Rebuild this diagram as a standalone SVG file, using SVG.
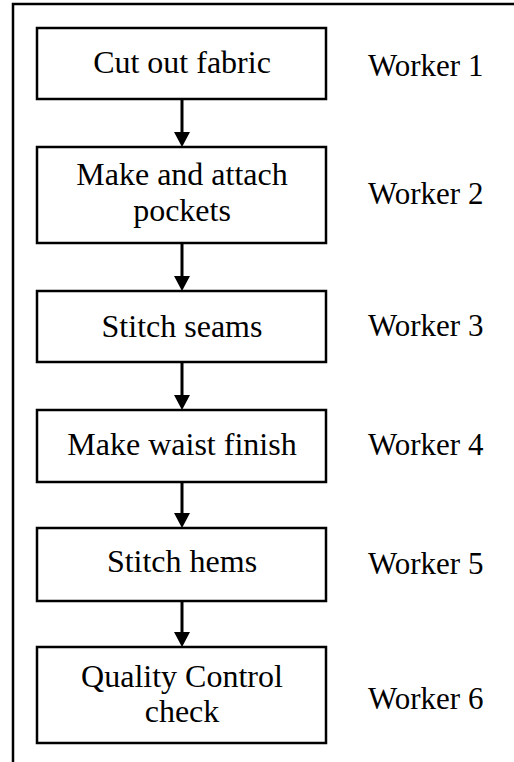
<svg xmlns="http://www.w3.org/2000/svg" width="514" height="762" viewBox="0 0 514 762">
  <defs>
    <style>
      .frame { fill: none; stroke: #000; stroke-width: 2.5; }
      .box { fill: #fff; stroke: #000; stroke-width: 2.5; }
      .lbl { font-family: "Liberation Serif", "Times New Roman", serif; font-size: 32px; fill: #000; text-anchor: middle; }
      .wrk { font-family: "Liberation Serif", "Times New Roman", serif; font-size: 31px; fill: #000; }
      .conn { stroke: #000; stroke-width: 3; fill: none; marker-end: url(#arrow); }
    </style>
    <marker id="arrow" viewBox="0 0 15 16" refX="7" refY="8" markerWidth="15" markerHeight="16" markerUnits="userSpaceOnUse" orient="auto">
      <path d="M0,0 L15,8 L0,16 z" fill="#000"/>
    </marker>
  </defs>
  <rect width="514" height="762" fill="#fff"/>
  <rect class="frame" x="13" y="4" width="520" height="780"/>

  <g id="connectors">
    <line class="conn" x1="182" y1="99" x2="182" y2="139"/>
    <line class="conn" x1="182" y1="243" x2="182" y2="283"/>
    <line class="conn" x1="182" y1="362" x2="182" y2="402"/>
    <line class="conn" x1="182" y1="482" x2="182" y2="520"/>
    <line class="conn" x1="182" y1="601" x2="182" y2="639"/>
  </g>

  <g id="node1">
    <rect class="box" x="37" y="28" width="289" height="71"/>
    <text class="lbl" x="182" y="73">Cut out fabric</text>
  </g>
  <g id="node2">
    <rect class="box" x="37" y="147" width="289" height="96"/>
    <text class="lbl" x="182" y="185">Make and attach</text>
    <text class="lbl" x="182" y="221">pockets</text>
  </g>
  <g id="node3">
    <rect class="box" x="37" y="291" width="289" height="71"/>
    <text class="lbl" x="182" y="337">Stitch seams</text>
  </g>
  <g id="node4">
    <rect class="box" x="37" y="410" width="289" height="72"/>
    <text class="lbl" x="182" y="455">Make waist finish</text>
  </g>
  <g id="node5">
    <rect class="box" x="37" y="528" width="289" height="73"/>
    <text class="lbl" x="182" y="572">Stitch hems</text>
  </g>
  <g id="node6">
    <rect class="box" x="37" y="647" width="289" height="96"/>
    <text class="lbl" x="182" y="687">Quality Control</text>
    <text class="lbl" x="182" y="722">check</text>
  </g>

  <g id="workers">
    <text class="wrk" x="368" y="76">Worker 1</text>
    <text class="wrk" x="368" y="204">Worker 2</text>
    <text class="wrk" x="368" y="336">Worker 3</text>
    <text class="wrk" x="368" y="455">Worker 4</text>
    <text class="wrk" x="368" y="574">Worker 5</text>
    <text class="wrk" x="368" y="709">Worker 6</text>
  </g>
</svg>
